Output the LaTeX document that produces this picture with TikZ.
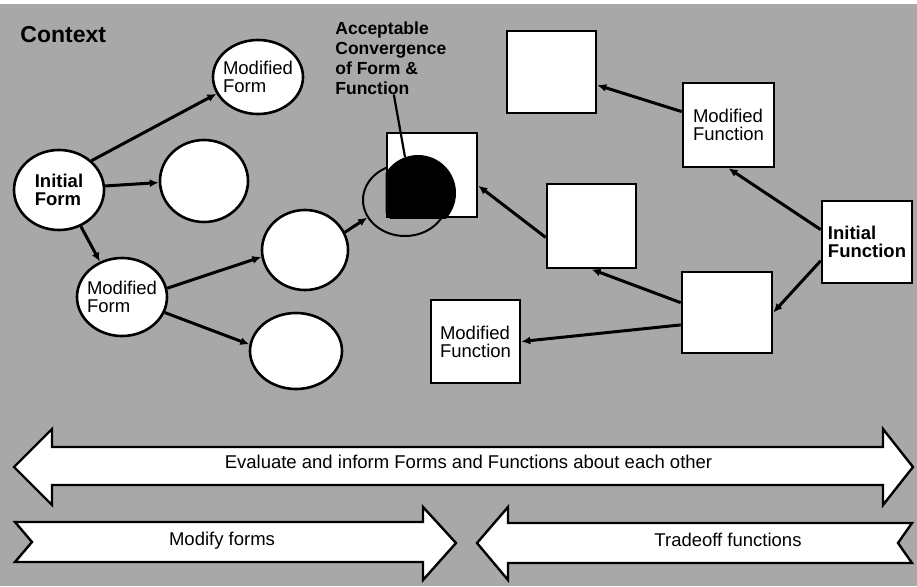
\documentclass[tikz,border=0pt]{standalone}
\usepackage{fontspec}
\setsansfont{Liberation Sans}
\usepackage{tikz}
\usetikzlibrary{shapes.geometric, arrows.meta, positioning}

\definecolor{paper}{RGB}{168,168,168}

\begin{document}
\begin{tikzpicture}[x=1pt,y=-1pt,-,auto,thick,
    form node/.style={ellipse,draw,fill=white,line width=2.6pt,inner sep=-6pt,align=left,
                      font=\sffamily\fontsize{18.5}{18}\selectfont},
    function node/.style={rectangle,draw,fill=white,line width=2.6pt,inner sep=0pt,align=left,
                          font=\sffamily\fontsize{18.5}{18}\selectfont},
    bold node/.style={font=\sffamily\bfseries\fontsize{18.5}{18}\selectfont},
    link/.style={draw,line width=3pt,-{Latex[length=9pt,width=8pt]}},
    band/.style={draw,fill=white,line width=2.4pt,line join=miter},
    band text/.style={font=\sffamily\fontsize{18.5}{20}\selectfont,anchor=base}]

  % paper
  \useasboundingbox (0,0) rectangle (917,586);
  \fill[white] (0,0) rectangle (917,4);
  \fill[paper] (0,4) rectangle (917,586);

  \node[anchor=base west,inner sep=0pt,font=\sffamily\bfseries\fontsize{23}{23}\selectfont] (ctx) at (20,42) {Context};

  % forms
  \node[form node,bold node,minimum width=90pt,minimum height=80pt] (1) at (59,190) {Initial\\Form};
  \node[form node,minimum width=90pt,minimum height=74pt] (2) at (258,77) {Modified\\Form};
  \node[form node,minimum width=88pt,minimum height=82pt] (3) at (204,181) {};
  \node[form node,minimum width=90pt,minimum height=78pt] (4) at (122,297) {Modified\\Form};
  \node[form node,minimum width=86pt,minimum height=80pt] (5) at (305,250) {};
  \node[form node,minimum width=92pt,minimum height=76pt] (6) at (296,351) {};
  \node[ellipse,draw,line width=2pt,minimum width=84pt,minimum height=72pt] (c) at (405,200) {};

  % functions
  \node[function node,bold node,minimum width=90pt,minimum height=82pt] (7) at (867,242) {Initial\\Function};
  \node[function node,minimum width=91pt,minimum height=84pt] (8) at (728.5,125) {Modified\\Function};
  \node[function node,minimum width=89pt,minimum height=82pt] (9) at (551.5,72) {};
  \node[function node,minimum width=90pt,minimum height=81pt] (10) at (727,312.5) {};
  \node[function node,minimum width=89pt,minimum height=84pt] (11) at (591.5,226) {};
  \node[function node,minimum width=89pt,minimum height=83pt] (12) at (475.5,341.5) {Modified\\Function};
  \node[function node,minimum width=90pt,minimum height=84pt] (13) at (432,175) {};

  % where form meets function
  \begin{scope}
    \clip (13.south west) rectangle (13.north east);
    \fill (418,193) circle (38pt);
  \end{scope}
  \node[anchor=north west,inner sep=0pt,align=left,
        font=\sffamily\bfseries\fontsize{17.5}{20}\selectfont] (lbl) at (335,21)
        {Acceptable\\Convergence\\of Form \&\\Function};
  \coordinate (meet) at (405,157);
  \draw[line width=2.2pt] ([xshift=3pt]lbl.south) -- (meet);

  \path
    (1.42)  edge[link] (2.202)
    (1.5)   edge[link] (3.182)
    (1.301) edge[link] (4.122)
    (4.11)  edge[link] (5.189)
    (4.340) edge[link] (6.172)
    (5.24)  edge[link] (c.205)
    (8.164) edge[link] (9.344)
    (7.165) edge[link] (8.south)
    (7.202) edge[link] (10.east)
    (10.168) edge[link] (11.south)
    (10.195) edge[link] (12.east)
    (11.194) edge[link] (13.347);

  % bands along the bottom
  \draw[band] (14,467) -- (52,429) -- (52,447) -- (883,447) -- (883,429) -- (913,467)
    -- (883,505) -- (883,485) -- (52,485) -- (52,505) -- cycle;
  \node[band text] (eval) at (468.5,468) {Evaluate and inform Forms and Functions about each other};

  \draw[band] (15,522) -- (423,522) -- (423,507) -- (456,543) -- (423,580) -- (423,562)
    -- (15,562) -- (32,542) -- cycle;
  \node[band text] (modify) at (222,545) {Modify forms};

  \draw[band] (477,543) -- (508,507) -- (508,523) -- (912,523) -- (898,543) -- (912,563)
    -- (508,563) -- (508,580) -- cycle;
  \node[band text] (trade) at (728,546) {Tradeoff functions};

\end{tikzpicture}
\end{document}
